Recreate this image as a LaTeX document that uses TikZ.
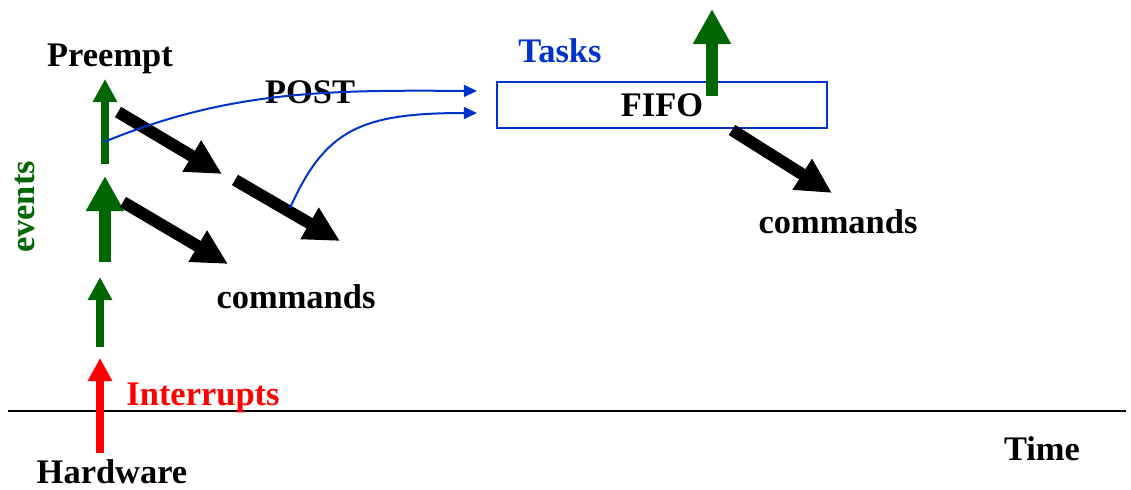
\documentclass[tikz,border=0pt]{standalone}
\usepackage{fontspec}
\setmainfont{Liberation Serif}
\usetikzlibrary{arrows.meta}
\definecolor{EventGreen}{RGB}{0,102,0}
\definecolor{TaskBlue}{RGB}{0,51,204}
\definecolor{IrqRed}{RGB}{255,0,0}

\begin{document}
\begin{tikzpicture}[x=0.025cm, y=-0.025cm,
    every node/.style={font=\fontsize{24.5}{29}\selectfont\bfseries, inner sep=0pt},
    txt/.style={anchor=base},
    thinup/.style={line width=0.2cm, -{Triangle[length=0.58cm, width=0.58cm]}},
    thickup/.style={line width=0.3cm, -{Triangle[length=0.88cm, width=0.9cm]}},
    cmdarrow/.style={line width=0.3cm, -{Triangle[length=0.88cm, width=0.85cm]}},
    postarrow/.style={TaskBlue, line width=0.05cm, -{Triangle[length=0.33cm, width=0.3cm]}}
]
    \useasboundingbox (0,0) rectangle (1131,489);

    % Time line
    \coordinate (tl) at (8,411);
    \coordinate (tr) at (1126,411);
    \draw[line width=0.06cm] (tl) -- (tr);

    % Labels
    \node[txt] (preempt) at (110,66) {Preempt};
    \node[txt] (post) at (310,103) {POST};
    \node[txt, text=TaskBlue] (tasks) at (560,62) {Tasks};
    \node[txt] (cmdleft) at (296,308) {commands};
    \node[txt] (cmdright) at (838,233) {commands};
    \node[txt, text=IrqRed] (irq) at (203,405) {Interrupts};
    \node[txt] (hw) at (112,483) {Hardware};
    \node[txt] (time) at (1042,460) {Time};
    \node[text=EventGreen, rotate=90] (events) at (25,207) {events};

    % Task queue
    \node[draw=TaskBlue, line width=0.05cm, minimum width=8.25cm, minimum height=1.15cm] (fifo) at (662,105) {FIFO};

    % End points of the arrows
    \coordinate (hwfoot) at (100,453);
    \coordinate (hwtip) at (100,358);
    \coordinate (ev1foot) at (100,347);
    \coordinate (ev1tip) at (100,277);
    \coordinate (ev2foot) at (105,262);
    \coordinate (ev2tip) at (105,176);
    \coordinate (ev3foot) at (105,164);
    \coordinate (ev3tip) at (105,79);
    \coordinate (taskfoot) at (712,96);
    \coordinate (tasktip) at (712,9);

    \coordinate (c1a) at (118,112);
    \coordinate (c1b) at (222,174);
    \coordinate (c2a) at (235,180);
    \coordinate (c2b) at (340,241);
    \coordinate (c3a) at (123,202);
    \coordinate (c3b) at (228,264);
    \coordinate (c4a) at (732,130);
    \coordinate (c4b) at (832,193);

    \coordinate (p1a) at (104,142);
    \coordinate (p1b) at (477,91);
    \coordinate (p2a) at (290,208);
    \coordinate (p2b) at (477,113);

    % Interrupt and events
    \draw[thinup, IrqRed] (hwfoot) -- (hwtip);
    \draw[thinup, EventGreen] (ev1foot) -- (ev1tip);
    \draw[thickup, EventGreen] (ev2foot) -- (ev2tip);
    \draw[thinup, EventGreen] (ev3foot) -- (ev3tip);
    \draw[thickup, EventGreen] (taskfoot) -- (tasktip);

    % Commands
    \draw[cmdarrow] (c1a) -- (c1b);
    \draw[cmdarrow] (c2a) -- (c2b);
    \draw[cmdarrow] (c3a) -- (c3b);
    \draw[cmdarrow] (c4a) -- (c4b);

    % Posting tasks
    \draw[postarrow] (p1a) .. controls (230,90) and (330,90) .. (p1b);
    \draw[postarrow] (p2a) .. controls (325,130) and (360,113) .. (p2b);
\end{tikzpicture}
\end{document}
